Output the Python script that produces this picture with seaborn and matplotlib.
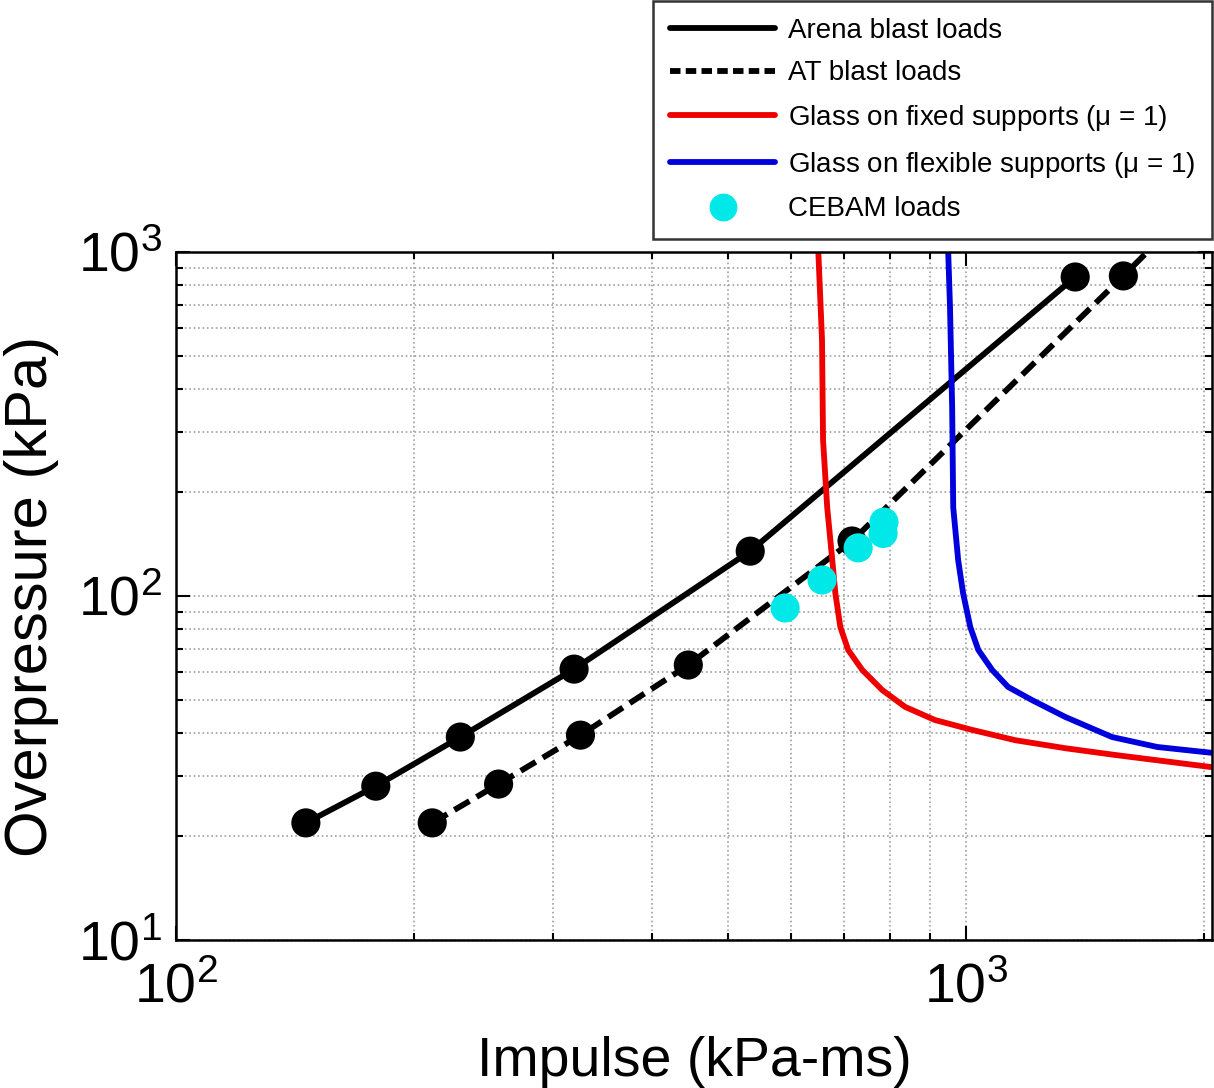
import numpy as np
import pandas as pd
import seaborn as sns
import matplotlib.pyplot as plt
from matplotlib.lines import Line2D
from matplotlib.ticker import LogLocator, NullFormatter

# marker points (impulse kPa-ms, overpressure kPa)
arena_i = [146, 179, 229, 319, 533, 1374]
arena_p = [21.9, 28.0, 38.9, 61.3, 135, 846]
at_i = [211, 256, 325, 445, 717, 1581]
at_p = [21.9, 28.4, 39.4, 63.0, 144.5, 852]
at_line_i = [211, 256, 325, 445, 717, 1581, 1695]
at_line_p = [21.9, 28.4, 39.4, 63.0, 144.5, 852, 1000]

# pressure-impulse curves
fixed_i = [650, 657, 659, 667, 677, 683, 693, 709, 739, 783, 837, 913, 1018, 1153, 1335, 1544, 2047]
fixed_p = [1000, 555, 284, 181, 127, 102, 81.3, 69.7, 60.9, 53.3, 47.6, 43.6, 40.8, 38.1, 36.1, 34.5, 31.8]
flex_i = [949, 954, 960, 963, 977, 991, 1012, 1036, 1079, 1130, 1212, 1335, 1530, 1745, 2047]
flex_p = [1000, 692, 354, 181, 127, 102, 81.3, 69.7, 60.9, 54.4, 49.8, 44.5, 38.9, 36.4, 35.0]

cebam_i = [590, 657, 730, 787, 785]
cebam_p = [92.3, 111.3, 138, 164, 152]

sns.set_style("ticks")
plt.rcParams['font.family'] = ['Liberation Sans', 'DejaVu Sans']
plt.rcParams['mathtext.fontset'] = 'custom'
plt.rcParams['mathtext.rm'] = 'Liberation Sans'
plt.rcParams['mathtext.it'] = 'Liberation Sans'
for k in ['text.color', 'axes.labelcolor', 'xtick.color', 'ytick.color']:
    plt.rcParams[k] = 'black'

fig = plt.figure(figsize=(12.14, 10.88), dpi=100)
ax = fig.add_axes([176/1214, 1 - 940/1088, (1212-176)/1214, (940-252)/1088])

lw = 4.2
red = '#ee0000'
blue = '#0000dd'
cyan = '#00e8e8'
sns.lineplot(x=arena_i, y=arena_p, ax=ax, color='black', lw=lw, sort=False, estimator=None)
sns.lineplot(x=at_line_i, y=at_line_p, ax=ax, color='black', lw=lw, sort=False, estimator=None,
             linestyle=(0, (3.0, 1.4)))
sns.lineplot(x=fixed_i, y=fixed_p, ax=ax, color=red, lw=lw, sort=False, estimator=None)
sns.lineplot(x=flex_i, y=flex_p, ax=ax, color=blue, lw=lw, sort=False, estimator=None)
sns.scatterplot(x=arena_i + at_i, y=arena_p + at_p, ax=ax, color='black', s=440,
                edgecolor='none', zorder=4)
sns.scatterplot(x=cebam_i, y=cebam_p, ax=ax, color=cyan, s=440, edgecolor='none', zorder=5)

ax.set_xscale('log')
ax.set_yscale('log')
ax.set_xlim(100, 2047)
ax.set_ylim(10, 1000)
ax.xaxis.set_minor_locator(LogLocator(base=10, subs=np.arange(2, 10), numticks=100))
ax.yaxis.set_minor_locator(LogLocator(base=10, subs=np.arange(2, 10), numticks=100))
ax.xaxis.set_minor_formatter(NullFormatter())
ax.yaxis.set_minor_formatter(NullFormatter())
ax.set_xticks([100, 1000])
ax.set_xticklabels([r'$10^{2}$', r'$10^{3}$'])
ax.set_yticks([10, 100, 1000])
ax.set_yticklabels([r'$10^{1}$', r'$10^{2}$', r'$10^{3}$'])

ax.grid(True, which='both', color='#a0a0a0', linestyle=':', linewidth=1.2)
ax.tick_params(which='both', direction='in', top=True, right=True, width=1.5, labelsize=40)
ax.tick_params(axis='x', pad=16)
ax.tick_params(axis='y', pad=10)
ax.tick_params(which='major', length=10)
ax.tick_params(which='minor', length=5)
for s in ax.spines.values():
    s.set_linewidth(1.8)
    s.set_color('black')

ax.set_xlabel('Impulse (kPa-ms)', fontsize=40, labelpad=16)
ax.set_ylabel('Overpressure (kPa)', fontsize=43, labelpad=14)

handles = [
    Line2D([], [], color='black', lw=lw),
    Line2D([], [], color='black', lw=lw, linestyle=(0, (1.8, 0.9))),
    Line2D([], [], color=red, lw=lw),
    Line2D([], [], color=blue, lw=lw),
    Line2D([], [], color=cyan, marker='o', markersize=19, linestyle='none'),
]
labels = ['Arena blast loads', 'AT blast loads', r'Glass on fixed supports ($\mu$ = 1)',
          r'Glass on flexible supports ($\mu$ = 1)', 'CEBAM loads']
leg = fig.legend(handles, labels, loc='upper right', bbox_to_anchor=(1212/1214, 0.999),
                 fontsize=20, frameon=True, fancybox=False, edgecolor='black',
                 handlelength=3.8, handletextpad=0.45, labelspacing=0.6, borderpad=0.6,
                 borderaxespad=0.0)
leg.get_frame().set_linewidth(1.8)

fig.savefig('out.png', dpi=100, facecolor='white')
